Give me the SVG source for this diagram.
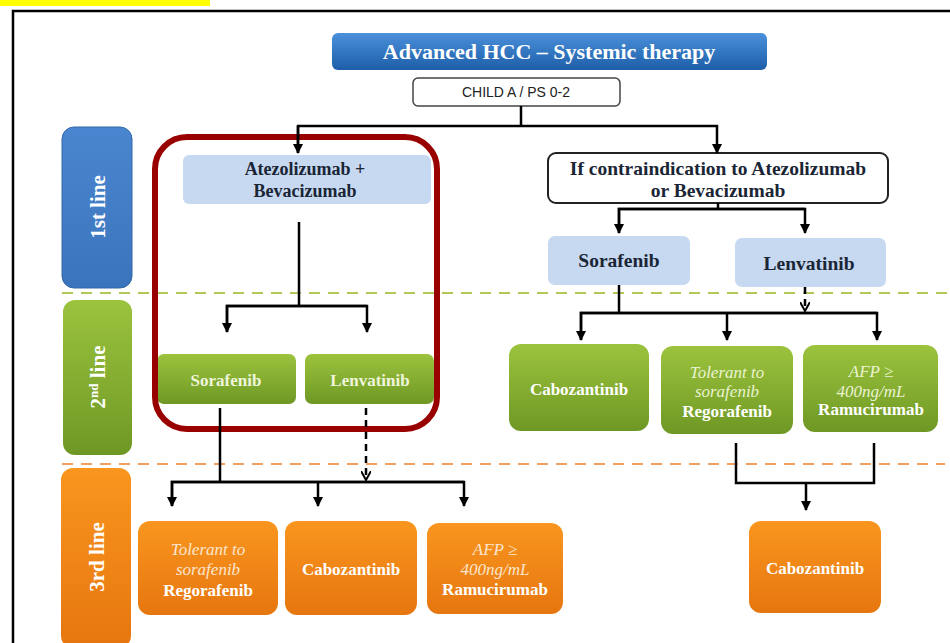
<svg xmlns="http://www.w3.org/2000/svg" width="950" height="643" viewBox="0 0 950 643">
<defs>
<linearGradient id="gBlue" x1="0" y1="0" x2="0" y2="1"><stop offset="0" stop-color="#4b90db"/><stop offset="1" stop-color="#1d5ea8"/></linearGradient>
<linearGradient id="gSide" x1="0" y1="0" x2="0" y2="1"><stop offset="0" stop-color="#4a86cf"/><stop offset="1" stop-color="#3a74bd"/></linearGradient>
<linearGradient id="gGreen" x1="0" y1="0" x2="0" y2="1"><stop offset="0" stop-color="#9cc33e"/><stop offset="1" stop-color="#6e9824"/></linearGradient>
<linearGradient id="gOrange" x1="0" y1="0" x2="0" y2="1"><stop offset="0" stop-color="#f9961f"/><stop offset="1" stop-color="#e6760f"/></linearGradient>
<marker id="arr" viewBox="0 0 10 10" refX="9" refY="5" markerWidth="4" markerHeight="4" orient="auto" markerUnits="strokeWidth"><path d="M0,0 L10,5 L0,10 z" fill="#000"/></marker>
<marker id="chev" viewBox="0 0 10 10" refX="9" refY="5" markerWidth="4" markerHeight="4" orient="auto" markerUnits="strokeWidth"><path d="M0,0 L9,5 L0,10" fill="none" stroke="#000" stroke-width="2"/></marker>
</defs>
<style>
.serif{font-family:"Liberation Serif","DejaVu Serif",serif;font-weight:bold}
.wt{fill:#fff}
.it{font-style:italic;font-weight:normal;fill:#fbe6cf}
.itg{font-style:italic;font-weight:normal;fill:#eaf3d2}
.dk{fill:#1a2535}
.ln{fill:none;stroke:#000;stroke-width:2.5}
.dash{fill:none;stroke:#000;stroke-width:2.5;stroke-dasharray:7 5}
</style>
<rect x="0" y="0" width="950" height="643" fill="#fff"/>
<rect x="0" y="0" width="210" height="6" fill="#ffff00"/>
<path d="M13,643 V11 H950" fill="none" stroke="#000" stroke-width="2.5"/>

<!-- separators -->
<line x1="62" y1="293" x2="950" y2="293" stroke="#b0c855" stroke-width="2" stroke-dasharray="11 8"/>
<line x1="62" y1="464" x2="945" y2="464" stroke="#f0a060" stroke-width="2" stroke-dasharray="11 8"/>

<!-- sidebars -->
<g id="side1"><rect x="62" y="127" width="70" height="161" rx="12" fill="url(#gSide)" stroke="#3468a8" stroke-width="1"/>
<text class="serif wt" font-size="21" transform="translate(105,207) rotate(-90)" text-anchor="middle">1st line</text></g>
<g id="side2"><rect x="63" y="300" width="69" height="155" rx="12" fill="url(#gGreen)"/>
<text class="serif wt" font-size="21" transform="translate(105,377) rotate(-90)" text-anchor="middle">2<tspan font-size="13" baseline-shift="super">nd</tspan> line</text></g>
<g id="side3"><rect x="61" y="468" width="70" height="180" rx="12" fill="url(#gOrange)"/>
<text class="serif wt" font-size="21" transform="translate(104,557) rotate(-90)" text-anchor="middle">3rd line</text></g>

<!-- title -->
<g id="title"><rect x="332" y="33" width="435" height="37" rx="6" fill="url(#gBlue)"/>
<text class="serif wt" font-size="22" x="549" y="59" text-anchor="middle">Advanced HCC – Systemic therapy</text></g>
<g id="child"><rect x="413" y="78" width="207" height="28" rx="5" fill="#fff" stroke="#444" stroke-width="1.5"/>
<text font-family="'Liberation Sans',Arial,sans-serif" font-size="14" x="516" y="97" text-anchor="middle" fill="#222">CHILD A / PS 0-2</text></g>

<!-- first line -->
<g id="atezo"><rect x="183" y="155" width="248" height="49" rx="6" fill="#c6d9f1"/>
<text class="serif dk" font-size="18" x="305" y="175" text-anchor="middle">Atezolizumab +</text>
<text class="serif dk" font-size="18" x="305" y="197" text-anchor="middle">Bevacizumab</text></g>
<g id="contra"><rect x="548" y="153" width="340" height="50" rx="8" fill="#fff" stroke="#222" stroke-width="2"/>
<text class="serif dk" font-size="19.5" x="718" y="175" text-anchor="middle">If contraindication to Atezolizumab</text>
<text class="serif dk" font-size="19.5" x="718" y="197" text-anchor="middle">or Bevacizumab</text></g>
<g id="sora1"><rect x="548" y="236" width="142" height="49" rx="7" fill="#c6d9f1"/>
<text class="serif dk" font-size="19.5" x="619" y="267" text-anchor="middle">Sorafenib</text></g>
<g id="lenva1"><rect x="735" y="238" width="151" height="49" rx="7" fill="#c6d9f1"/>
<text class="serif dk" font-size="19.5" x="809" y="270" text-anchor="middle">Lenvatinib</text></g>

<!-- second line -->
<g id="sora2"><rect x="157" y="354" width="139" height="50" rx="7" fill="url(#gGreen)"/>
<text class="serif" fill="#eef5dc" font-size="17" x="226" y="386" text-anchor="middle">Sorafenib</text></g>
<g id="lenva2"><rect x="305" y="354" width="129" height="50" rx="7" fill="url(#gGreen)"/>
<text class="serif" fill="#eef5dc" font-size="17" x="370" y="386" text-anchor="middle">Lenvatinib</text></g>
<g id="cabo2"><rect x="509" y="344" width="140" height="87" rx="12" fill="url(#gGreen)"/>
<text class="serif wt" font-size="17" x="579" y="395" text-anchor="middle">Cabozantinib</text></g>
<g id="rego2"><rect x="661" y="346" width="132" height="88" rx="12" fill="url(#gGreen)"/>
<text class="serif itg" font-size="17" x="727" y="378" text-anchor="middle">Tolerant to</text>
<text class="serif itg" font-size="17" x="727" y="397" text-anchor="middle">sorafenib</text>
<text class="serif wt" font-size="17" x="727" y="417" text-anchor="middle">Regorafenib</text></g>
<g id="ramu2"><rect x="803" y="345" width="135" height="87" rx="12" fill="url(#gGreen)"/>
<text class="serif itg" font-size="17" x="871" y="377" text-anchor="middle">AFP ≥</text>
<text class="serif itg" font-size="17" x="871" y="397" text-anchor="middle">400ng/mL</text>
<text class="serif wt" font-size="17" x="871" y="415" text-anchor="middle">Ramucirumab</text></g>

<!-- third line -->
<g id="rego3"><rect x="138" y="521" width="140" height="94" rx="12" fill="url(#gOrange)"/>
<text class="serif it" font-size="17" x="208" y="555" text-anchor="middle">Tolerant to</text>
<text class="serif it" font-size="17" x="208" y="575" text-anchor="middle">sorafenib</text>
<text class="serif wt" font-size="17" x="208" y="596" text-anchor="middle">Regorafenib</text></g>
<g id="cabo3"><rect x="285" y="521" width="132" height="94" rx="12" fill="url(#gOrange)"/>
<text class="serif wt" font-size="17" x="351" y="575" text-anchor="middle">Cabozantinib</text></g>
<g id="ramu3"><rect x="427" y="523" width="136" height="91" rx="12" fill="url(#gOrange)"/>
<text class="serif it" font-size="17" x="495" y="555" text-anchor="middle">AFP ≥</text>
<text class="serif it" font-size="17" x="495" y="575" text-anchor="middle">400ng/mL</text>
<text class="serif wt" font-size="17" x="495" y="595" text-anchor="middle">Ramucirumab</text></g>
<g id="cabo3r"><rect x="749" y="521" width="132" height="92" rx="12" fill="url(#gOrange)"/>
<text class="serif wt" font-size="17" x="815" y="574" text-anchor="middle">Cabozantinib</text></g>

<!-- highlight -->
<g id="highlight"><rect x="155" y="137" width="282" height="292" rx="32" fill="none" stroke="#990000" stroke-width="6"/></g>

<!-- connectors -->
<g id="connectors">
<path class="ln" d="M521,106 V126"/>
<path class="ln" d="M298,153 V126 H717 V153" marker-end="url(#arr)"/>
<path class="ln" d="M298,126 V153" marker-end="url(#arr)"/>
<path class="ln" d="M299,222 V306"/>
<path class="ln" d="M227,332 V306 H367 V332" marker-end="url(#arr)"/>
<path class="ln" d="M367,306 H227 V332" marker-end="url(#arr)"/>
<path class="ln" d="M718,203 V209"/>
<path class="ln" d="M619,233 V209 H805 V233" marker-end="url(#arr)"/>
<path class="ln" d="M805,209 H619 V233" marker-end="url(#arr)"/>
<path class="ln" d="M619,285 V313"/>
<path class="dash" d="M805,287 V311" marker-end="url(#chev)"/>
<path class="ln" d="M581,340 V313 H877 V340" marker-end="url(#arr)"/>
<path class="ln" d="M877,313 H581 V340" marker-end="url(#arr)"/>
<path class="ln" d="M727,313 V340" marker-end="url(#arr)"/>
<path class="ln" d="M220,408 V482"/>
<path class="dash" d="M366,408 V480" marker-end="url(#chev)"/>
<path class="ln" d="M172,506 V482 H464 V506" marker-end="url(#arr)"/>
<path class="ln" d="M464,482 H172 V506" marker-end="url(#arr)"/>
<path class="ln" d="M318,482 V506" marker-end="url(#arr)"/>
<path class="ln" d="M736,443 V483 H874 V443"/>
<path class="ln" d="M806,483 V510" marker-end="url(#arr)"/>
</g>
</svg>
